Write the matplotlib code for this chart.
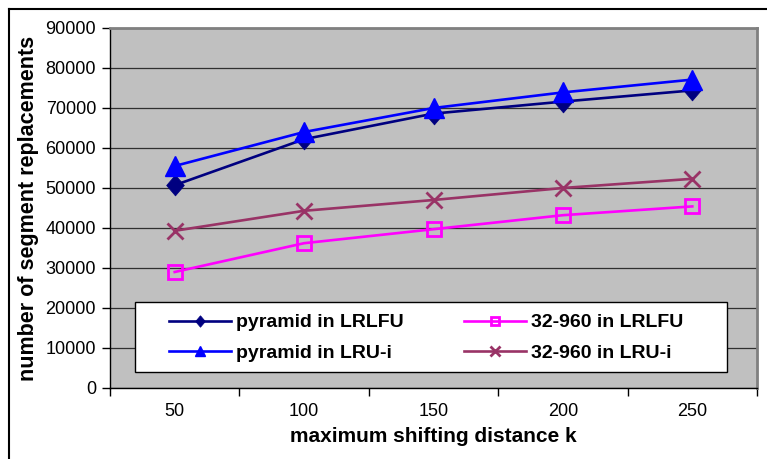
import matplotlib
matplotlib.use("Agg")
import matplotlib.pyplot as plt
from matplotlib.lines import Line2D
from matplotlib.patches import Rectangle

plt.rcParams['font.family'] = ['Liberation Sans', 'DejaVu Sans']

categories = ["50", "100", "150", "200", "250"]
pyramid_lrlfu = [50700, 62200, 68600, 71600, 74400]
pyramid_lrui = [55500, 64000, 70000, 73900, 77100]
s32_960_lrlfu = [29000, 36200, 39700, 43200, 45400]
s32_960_lrui = [39300, 44300, 47000, 50000, 52300]
yticks = list(range(0, 90001, 10000))

fig = plt.figure(figsize=(7.67, 4.59), dpi=100)
ax = fig.add_axes([110/767, 1-388/459, 647/767, 360/459])
ax.set_facecolor('#C0C0C0')

diamond = [(0, 1), (0.85, 0), (0, -1), (-0.85, 0), (0, 1)]
x = list(range(len(categories)))
lw = 1.9
ax.plot(x, pyramid_lrlfu, color='#000080', lw=lw, marker=diamond, ms=15,
        mfc='#000080', mec='#000080', mew=0.5, label='pyramid in LRLFU', zorder=4)
ax.plot(x, pyramid_lrui, color='#0000FF', lw=lw, marker='^', ms=14,
        mfc='#0000FF', mec='#0000FF', label='pyramid in LRU-i', zorder=4.2)
ax.plot(x, s32_960_lrlfu, color='#FF00FF', lw=lw, marker='s', ms=10,
        mfc='none', mec='#FF00FF', mew=2, label='32-960 in LRLFU', zorder=4)
ax.plot(x, s32_960_lrui, color='#993366', lw=lw, marker='x', ms=12,
        mec='#993366', mew=2, label='32-960 in LRU-i', zorder=4)

ax.set_xlim(-0.5, len(categories) - 0.5)
ax.set_ylim(0, 90000)
ax.set_yticks(yticks)
ax.set_yticklabels([str(v) for v in yticks], fontsize=13)
ax.yaxis.grid(True, color='#303030', lw=0.9)
ax.set_axisbelow(True)
ax.set_xticks(x)
ax.set_xticklabels(categories, fontsize=13)
ax.set_xticks([i + 0.5 for i in x[:-1]] + [-0.5, len(categories) - 0.5], minor=True)
ax.tick_params(axis='x', which='major', length=0, pad=11)
ax.tick_params(axis='x', which='minor', length=6, width=1, direction='out', color='black')
ax.tick_params(axis='y', length=6, width=1, direction='out', pad=4)

for side in ['top', 'right']:
    ax.spines[side].set_color('#808080')
    ax.spines[side].set_linewidth(2)
for side in ['left', 'bottom']:
    ax.spines[side].set_color('black')
    ax.spines[side].set_linewidth(1)

ax.set_xlabel('maximum shifting distance k', fontsize=15, fontweight='bold', labelpad=5)
ax.set_ylabel('number of segment replacements', fontsize=15.5, fontweight='bold', labelpad=5)

# legend frame
frame = Rectangle((25/647, 16/360), 592/647, 70/360, transform=ax.transAxes,
                  facecolor='white', edgecolor='black', lw=1, zorder=6)
ax.add_patch(frame)

leg = ax.legend(loc='center', bbox_to_anchor=(59/647, 15/360, 514/647, 70/360),
                mode='expand', ncol=2, prop={'size': 14, 'weight': 'bold'},
                frameon=False, borderaxespad=0, handlelength=3.2,
                handletextpad=0.25, labelspacing=0.68, markerscale=0.55, borderpad=0,
                columnspacing=2.0)
leg.set_zorder(7)

# outer chart frame (top and left visible)
fig.add_artist(Line2D([9/767, 1], [1-8.5/459, 1-8.5/459], color='black', lw=1.5,
                      transform=fig.transFigure))
fig.add_artist(Line2D([9/767, 9/767], [0, 1-8.5/459], color='black', lw=1.5,
                      transform=fig.transFigure))

fig.savefig('out.png', dpi=100)
